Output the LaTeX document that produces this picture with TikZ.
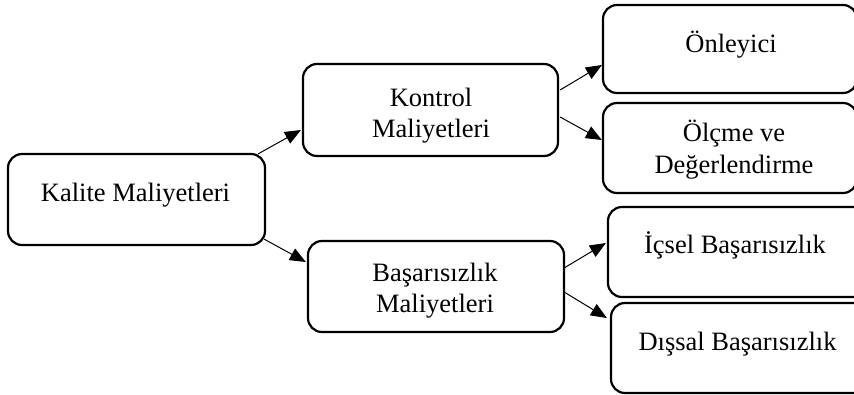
\documentclass[tikz,border=0pt]{standalone}
\usepackage{fontspec}
\setmainfont{Liberation Serif}
\usetikzlibrary{arrows.meta,calc}
\tikzset{
  box/.style={draw=black, line width=2.2pt, rounded corners=14pt, rectangle, inner sep=0pt, fill=white},
  lbl/.style={anchor=base, inner sep=0pt, font=\fontsize{26.5}{31.5}\selectfont},
  arr/.style={draw=black, line width=1pt, -{Triangle[length=16pt,width=13pt]}}
}
\newcommand{\twolines}[2]{\begin{tabular}[t]{@{}c@{}}#1\\#2\end{tabular}}
\begin{document}
\begin{tikzpicture}[x=1pt,y=-1pt]
\clip (0,0) rectangle (854,394);
\fill[white] (0,0) rectangle (854,394);
% boxes
\node[box, minimum width=257pt, minimum height=91pt] (kalite) at (136.5,199.5) {};
\node[box, minimum width=255pt, minimum height=92pt] (kontrol) at (430.5,110) {};
\node[box, minimum width=256pt, minimum height=91pt] (basar) at (436,286.5) {};
\node[box, minimum width=254pt, minimum height=88pt] (onleyici) at (730,49) {};
\node[box, minimum width=254pt, minimum height=90pt] (olcme) at (730,148) {};
\node[box, minimum width=262pt, minimum height=90pt] (icsel) at (739,252) {};
\node[box, minimum width=259pt, minimum height=90pt] (dissal) at (740.5,348) {};
% texts
\node[lbl] (tkalite) at (135.5,201) {Kalite Maliyetleri};
\node[lbl] (tkontrol) at (431,106) {\twolines{Kontrol}{Maliyetleri}};
\node[lbl] (tbasar) at (435,281) {\twolines{Başarısızlık}{Maliyetleri}};
\node[lbl] (tonleyici) at (731,52) {Önleyici};
\node[lbl] (tolcme) at (734,141.5) {\twolines{Ölçme ve}{Değerlendirme}};
\node[lbl] (ticsel) at (735,253) {İçsel Başarısızlık};
\node[lbl] (tdissal) at (737.5,350) {Dışsal Başarısızlık};
% connectors
\draw[arr] ($(kalite.north east)+(-8,1)$) -- ($(kontrol.west)+(-1,20)$);
\draw[arr] ($(kalite.south east)+(-2,-7)$) -- ($(basar.west)+(-1,-24.5)$);
\draw[arr] ($(kontrol.east)+(1,-20)$) -- ($(onleyici.west)+(0,16)$);
\draw[arr] ($(kontrol.east)+(1,7)$) -- ($(olcme.west)+(0,-8)$);
\draw[arr] ($(basar.east)+(-1,-18.5)$) -- ($(icsel.west)+(-1,-9)$);
\draw[arr] ($(basar.east)+(-1,5.5)$) -- ($(dissal.west)+(-3,-30)$);
\end{tikzpicture}
\end{document}
